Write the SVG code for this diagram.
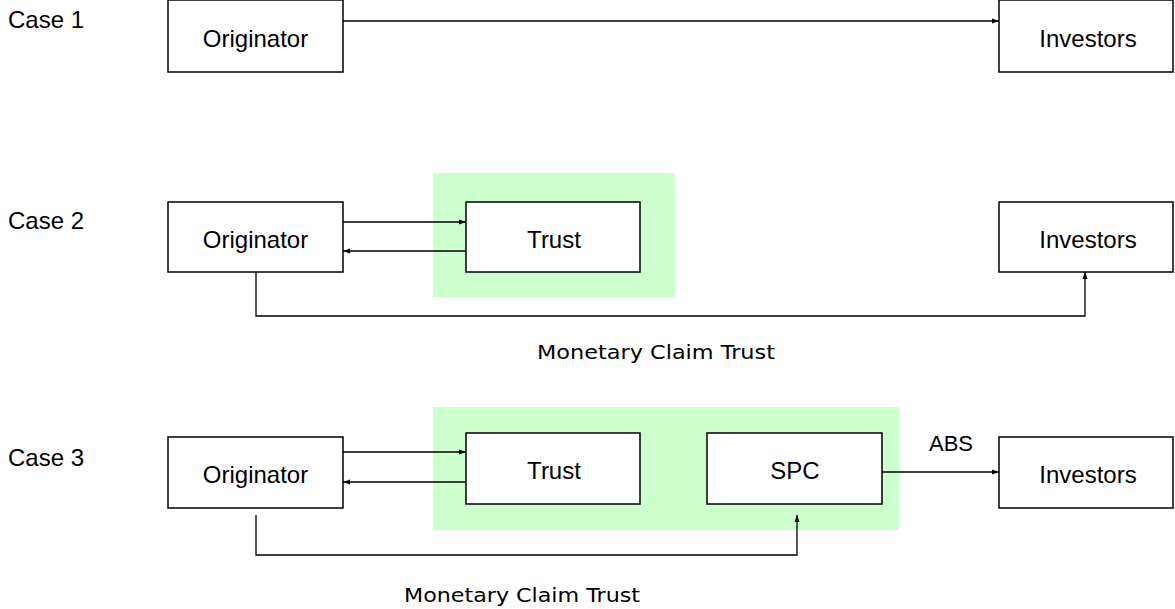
<svg xmlns="http://www.w3.org/2000/svg" width="1175" height="609" viewBox="0 0 1175 609">
<defs>
<marker id="ah" markerUnits="userSpaceOnUse" markerWidth="8" markerHeight="6" refX="7" refY="3" orient="auto"><path d="M0,0.5 L7,3 L0,5.5 z" fill="#000"/></marker>
<style>
.box{fill:#fff;stroke:#000;stroke-width:1.5}
.bg{fill:#ccffcc}
.t{font-family:"Liberation Sans",Arial,sans-serif;font-size:24px;fill:#000;text-anchor:middle;dominant-baseline:central}
.case{font-family:"Liberation Sans",Arial,sans-serif;font-size:24px;fill:#000}
.abs{font-family:"Liberation Sans",Arial,sans-serif;font-size:22px;fill:#000;text-anchor:middle}
.lbl{font-family:"DejaVu Sans","Noto Sans CJK JP",sans-serif;font-size:20px;fill:#000;text-anchor:middle}
.c{fill:none;stroke:#000;stroke-width:1.3}
.ca{fill:none;stroke:#000;stroke-width:1.3;marker-end:url(#ah)}
</style>
</defs>
<rect class="bg" x="433" y="173" width="242" height="124"/>
<rect class="bg" x="433" y="407" width="466" height="123"/>
<text class="case" x="8" y="28">Case 1</text>
<text class="case" x="8" y="229">Case 2</text>
<text class="case" x="8" y="466">Case 3</text>
<g id="c1-originator"><rect class="box" x="168" y="0" width="175" height="72"/><text class="t" x="255.5" y="38">Originator</text></g>
<g id="c1-investors"><rect class="box" x="999" y="0" width="174" height="72"/><text class="t" x="1088" y="38">Investors</text></g>
<g id="c2-originator"><rect class="box" x="168" y="202" width="175" height="70"/><text class="t" x="255.5" y="239">Originator</text></g>
<g id="c2-trust"><rect class="box" x="466" y="202" width="174" height="70"/><text class="t" x="554" y="239">Trust</text></g>
<g id="c2-investors"><rect class="box" x="999" y="202" width="174" height="70"/><text class="t" x="1088" y="239">Investors</text></g>
<g id="c3-originator"><rect class="box" x="168" y="437" width="175" height="71"/><text class="t" x="255.5" y="474">Originator</text></g>
<g id="c3-trust"><rect class="box" x="466" y="433" width="174" height="71"/><text class="t" x="554" y="470">Trust</text></g>
<g id="c3-spc"><rect class="box" x="707" y="433" width="175" height="71"/><text class="t" x="795" y="470">SPC</text></g>
<g id="c3-investors"><rect class="box" x="999" y="437" width="174" height="71"/><text class="t" x="1088" y="474">Investors</text></g>
<g id="connectors">
<line class="ca" x1="343" y1="21" x2="999" y2="21"/>
<line class="ca" x1="343" y1="222" x2="466" y2="222"/>
<line class="ca" x1="466" y1="251" x2="343" y2="251"/>
<polyline class="ca" points="256,272 256,316 1085,316 1085,272"/>
<line class="ca" x1="343" y1="452" x2="466" y2="452"/>
<line class="ca" x1="466" y1="482" x2="343" y2="482"/>
<line class="ca" x1="882" y1="472" x2="999" y2="472"/>
<polyline class="ca" points="256,515 256,555 797,555 797,515"/>
</g>
<text class="lbl" x="656" y="359" textLength="238" lengthAdjust="spacingAndGlyphs">Monetary Claim Trust</text>
<text class="lbl" x="522" y="602" textLength="236" lengthAdjust="spacingAndGlyphs">Monetary Claim Trust</text>
<text class="abs" x="951" y="451">ABS</text>
</svg>
